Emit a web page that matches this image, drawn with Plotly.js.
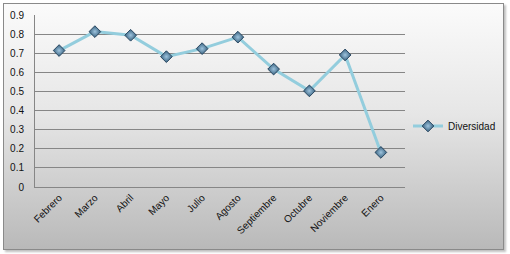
<!DOCTYPE html>
<html>
<head>
<meta charset="utf-8">
<script src="https://cdn.plot.ly/plotly-3.0.1.min.js"></script>
<style>
  html, body { margin: 0; padding: 0; background: #ffffff; }
  #wrap { position: relative; width: 510px; height: 254px; overflow: hidden; background: #ffffff; }
  #frame {
    position: absolute; left: 3px; top: 3px; width: 499px; height: 245px;
    border: 1px solid #8a8a8a;
    background: linear-gradient(to bottom, #fbfbfb 0%, #e6e6e6 45%, #b9b9b9 100%);
    box-shadow: 2px 2px 2px rgba(0,0,0,0.25);
  }
  #chart { position: absolute; left: 0; top: 0; width: 510px; height: 254px; }
</style>
</head>
<body>
<div id="wrap">
  <div id="frame"></div>
  <div id="chart"></div>
</div>
<script>
const categories = ['Febrero', 'Marzo', 'Abril', 'Mayo', 'Julio', 'Agosto', 'Septiembre', 'Octubre', 'Noviembre', 'Enero'];
const diversidad = [0.714, 0.813, 0.794, 0.682, 0.724, 0.784, 0.617, 0.503, 0.691, 0.181];
const seriesName = 'Diversidad';
const yTickVals = [0, 0.1, 0.2, 0.3, 0.4, 0.5, 0.6, 0.7, 0.8, 0.9];
const yTickText = ['0', '0.1', '0.2', '0.3', '0.4', '0.5', '0.6', '0.7', '0.8', '0.9'];

const trace = {
  x: categories,
  y: diversidad,
  name: seriesName,
  type: 'scatter',
  mode: 'lines+markers',
  line: { color: '#93CDDD', width: 3 },
  marker: {
    symbol: 'diamond',
    size: 9,
    color: '#37617F',
    gradient: { type: 'radial', color: '#9EC4DE' },
    line: { color: '#2A4862', width: 1 }
  },
  showlegend: true
};

const layout = {
  width: 510,
  height: 254,
  margin: { l: 35, r: 105, t: 15, b: 67, pad: 0 },
  paper_bgcolor: 'rgba(0,0,0,0)',
  plot_bgcolor: 'rgba(0,0,0,0)',
  font: { family: 'Liberation Sans, Arial, sans-serif', size: 10, color: '#111111' },
  xaxis: {
    type: 'category',
    tickangle: -45,
    showline: true,
    linecolor: '#868686',
    linewidth: 1,
    showgrid: false,
    ticks: '',
    tickfont: { size: 10, color: '#111111' },
    automargin: false
  },
  yaxis: {
    range: [0, 0.9],
    tickvals: yTickVals,
    ticktext: yTickText,
    showline: true,
    linecolor: '#868686',
    linewidth: 1,
    showgrid: true,
    gridcolor: '#868686',
    gridwidth: 1,
    zeroline: false,
    ticks: '',
    ticklen: 0,
    ticklabelstandoff: 8,
    tickfont: { size: 10, color: '#111111' },
    automargin: false
  },
  legend: {
    xref: 'container',
    yref: 'container',
    x: 0.8,
    y: 0.504,
    xanchor: 'left',
    yanchor: 'middle',
    bgcolor: 'rgba(0,0,0,0)',
    borderwidth: 0,
    font: { size: 10, color: '#111111' },
    itemwidth: 30
  }
};

Plotly.newPlot('chart', [trace], layout, { displayModeBar: false, staticPlot: true });
</script>
</body>
</html>
